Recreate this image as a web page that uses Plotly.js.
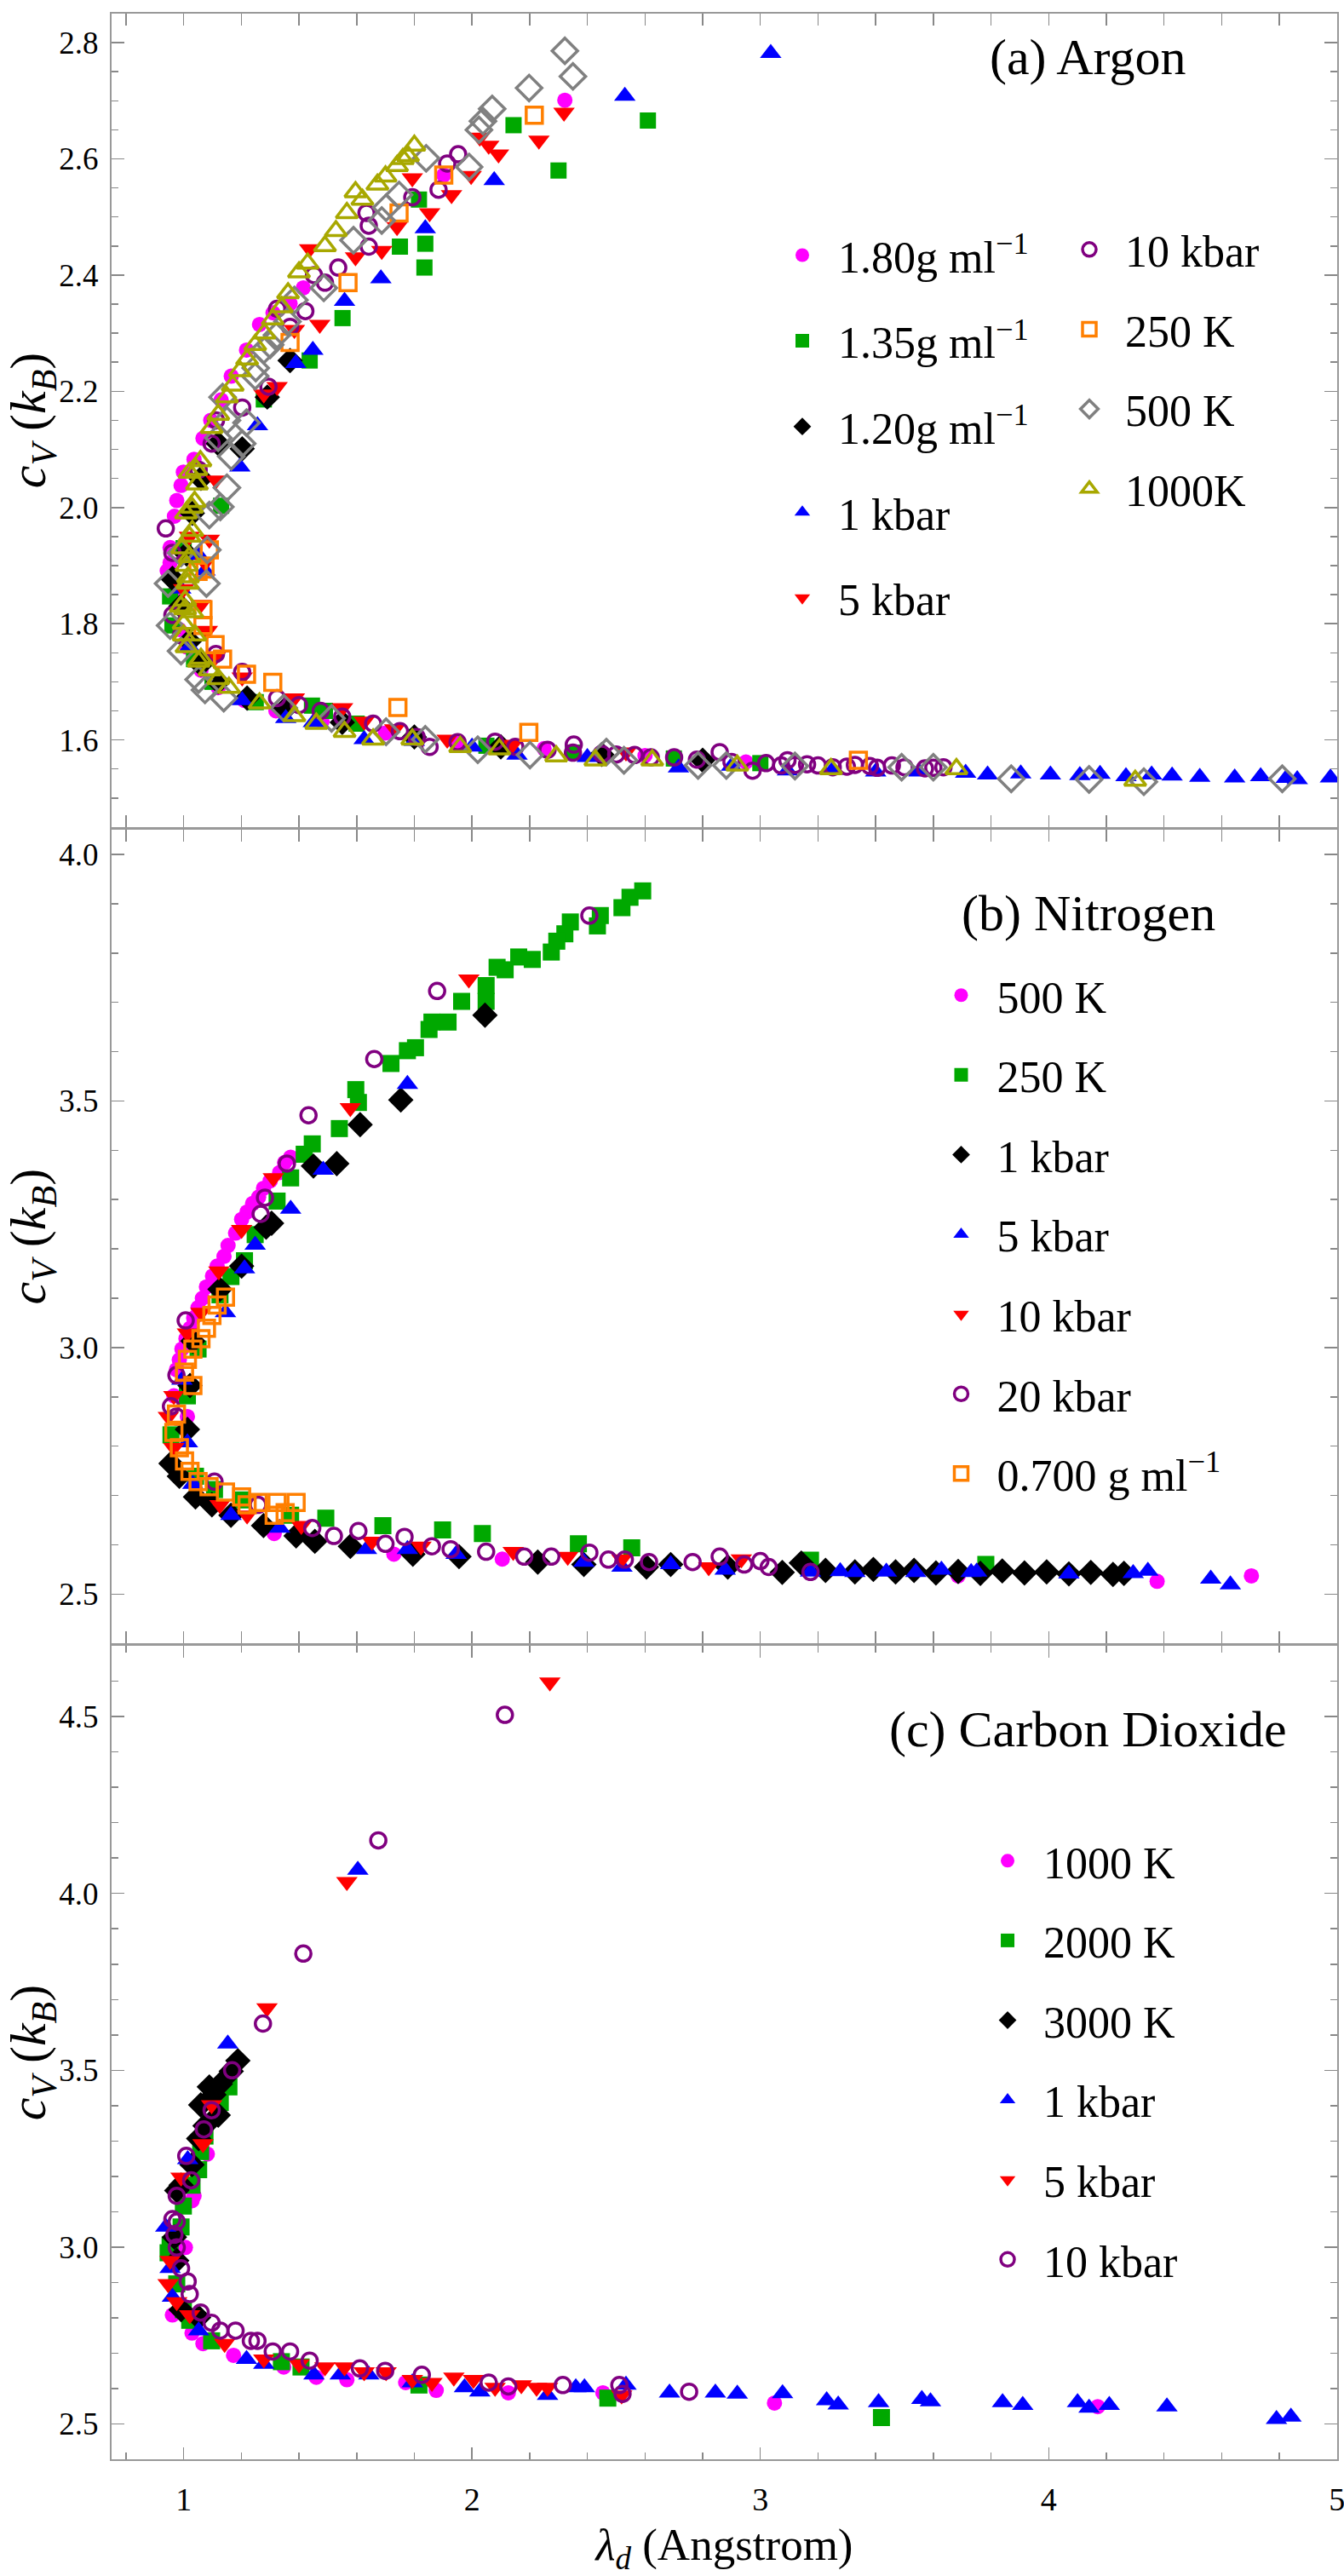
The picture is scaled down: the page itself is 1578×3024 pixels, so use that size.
<!DOCTYPE html>
<html>
<head>
<meta charset="utf-8">
<script src="https://cdn.plot.ly/plotly-3.0.1.min.js"></script>
<style>
body { margin: 0; background: #fff; }
#graph { width: 1578px; height: 3024px; }
</style>
</head>
<body>
<div id="graph"></div>
<script>
const FONT = '"Liberation Serif", "DejaVu Serif", serif';

// (a) Argon
const ar180x = [0.943, 0.953, 0.953, 0.968, 0.976, 0.991, 0.999, 1.036, 1.067, 1.094, 1.130, 1.165, 1.218, 1.263, 1.310, 1.369, 1.415, 1.902, 2.322, 0.960, 0.985, 1.010, 1.060, 1.120, 1.210, 1.320, 1.480, 1.700, 1.950, 2.250, 2.600, 2.950];
const ar180y = [1.891, 1.905, 1.931, 1.985, 2.012, 2.038, 2.061, 2.083, 2.119, 2.150, 2.185, 2.226, 2.271, 2.315, 2.335, 2.351, 2.378, 2.572, 2.701, 1.850, 1.790, 1.760, 1.720, 1.690, 1.668, 1.650, 1.632, 1.612, 1.595, 1.585, 1.573, 1.562];
const ar135x = [0.953, 0.961, 1.000, 1.130, 1.278, 1.437, 1.551, 1.750, 1.816, 1.835, 1.838, 2.144, 2.300, 2.610, 1.036, 1.100, 1.250, 1.445, 1.490, 1.600, 1.800, 2.050, 2.350, 2.700, 3.000];
const ar135y = [1.847, 1.797, 1.930, 2.003, 2.186, 2.253, 2.326, 2.449, 2.530, 2.413, 2.454, 2.658, 2.580, 2.666, 1.739, 1.700, 1.665, 1.659, 1.650, 1.628, 1.605, 1.590, 1.578, 1.568, 1.560];
const ar120x = [0.961, 0.990, 1.010, 1.030, 1.060, 1.120, 1.203, 1.290, 1.369, 1.020, 1.060, 1.120, 1.220, 1.350, 1.550, 1.800, 2.100, 2.450, 2.800];
const ar120y = [1.878, 1.830, 1.920, 1.990, 2.050, 2.110, 2.101, 2.190, 2.253, 1.770, 1.730, 1.700, 1.672, 1.652, 1.630, 1.605, 1.588, 1.575, 1.565];
const ar1kx = [0.990, 1.020, 1.052, 1.074, 1.195, 1.256, 1.389, 1.448, 1.558, 1.684, 1.838, 2.077, 2.530, 3.036, 1.203, 1.354, 1.450, 1.626, 1.800, 2.000, 2.156, 2.400, 2.716, 2.900, 3.094, 3.250, 3.400, 3.550, 3.712, 3.788, 3.903, 4.006, 4.108, 4.178, 4.268, 4.357, 4.428, 4.524, 4.645, 4.735, 4.824, 4.862, 4.977];
const ar1ky = [1.860, 1.760, 1.918, 1.891, 2.070, 2.141, 2.248, 2.271, 2.355, 2.394, 2.480, 2.563, 2.708, 2.782, 1.668, 1.637, 1.630, 1.601, 1.598, 1.588, 1.574, 1.570, 1.552, 1.555, 1.547, 1.548, 1.545, 1.545, 1.543, 1.540, 1.542, 1.540, 1.539, 1.541, 1.537, 1.540, 1.538, 1.536, 1.535, 1.537, 1.534, 1.532, 1.535];
const ar5kx = [2.319, 2.232, 2.092, 2.058, 2.027, 1.997, 1.929, 1.853, 1.793, 1.740, 1.687, 1.596, 1.437, 1.472, 1.384, 1.324, 1.278, 1.112, 1.089, 1.074, 1.059, 1.082, 1.112, 1.203, 1.384, 1.551, 1.626, 1.732, 1.914, 2.141, 2.534, 1.000, 1.020];
const ar5ky = [2.680, 2.632, 2.608, 2.623, 2.637, 2.571, 2.538, 2.507, 2.567, 2.483, 2.442, 2.431, 2.445, 2.315, 2.306, 2.208, 2.195, 2.047, 1.945, 1.905, 1.833, 1.788, 1.744, 1.708, 1.672, 1.655, 1.632, 1.619, 1.601, 1.592, 1.579, 1.860, 1.950];
const ar10kx = [1.952, 1.914, 1.884, 1.793, 1.642, 1.634, 1.642, 1.536, 1.490, 1.452, 1.422, 1.369, 1.324, 1.294, 1.203, 1.112, 1.097, 1.052, 0.938, 0.961, 0.961, 0.991, 1.112, 1.203, 1.324, 1.475, 1.657, 1.808, 1.853, 2.080, 2.262, 2.353, 2.564, 2.701, 2.859, 2.973, 3.094, 3.072, 3.162, 3.251, 3.328, 3.405, 3.456, 3.571, 3.635, 1.400, 1.550, 1.750, 1.950, 2.150, 2.450, 2.350, 2.500, 2.620, 2.780, 2.900, 3.020, 3.120, 3.200, 3.300, 3.380, 3.500, 3.600];
const ar10ky = [2.608, 2.592, 2.547, 2.534, 2.485, 2.507, 2.449, 2.413, 2.387, 2.400, 2.338, 2.311, 2.342, 2.208, 2.172, 2.150, 2.110, 2.065, 1.964, 1.922, 1.815, 1.780, 1.748, 1.717, 1.672, 1.650, 1.628, 1.605, 1.588, 1.597, 1.583, 1.592, 1.574, 1.570, 1.579, 1.547, 1.565, 1.556, 1.558, 1.553, 1.557, 1.552, 1.556, 1.551, 1.553, 1.660, 1.640, 1.615, 1.596, 1.588, 1.576, 1.578, 1.575, 1.570, 1.566, 1.562, 1.560, 1.557, 1.556, 1.554, 1.555, 1.553, 1.552];
const ar250x = [2.216, 1.902, 1.747, 1.570, 1.369, 1.074, 1.089, 1.067, 1.067, 1.109, 1.135, 1.218, 1.309, 1.743, 2.197, 3.340, 1.050];
const ar250y = [2.675, 2.572, 2.507, 2.387, 2.284, 1.894, 1.927, 1.824, 1.797, 1.764, 1.739, 1.713, 1.699, 1.656, 1.613, 1.565, 1.890];
const ar500x = [2.322, 2.350, 2.198, 2.070, 2.038, 2.024, 1.841, 1.990, 1.747, 1.702, 1.687, 1.589, 1.486, 1.384, 1.324, 1.278, 1.248, 1.135, 1.218, 1.203, 1.165, 1.150, 1.127, 1.089, 1.082, 1.079, 0.991, 0.946, 0.953, 0.991, 1.052, 1.074, 1.139, 1.347, 1.513, 1.702, 1.838, 2.020, 2.201, 2.466, 2.527, 2.784, 2.882, 3.120, 3.490, 3.600, 3.870, 4.140, 4.330, 4.810, 1.250, 1.300, 1.360, 1.150, 1.120];
const ar500y = [2.786, 2.742, 2.722, 2.686, 2.665, 2.650, 2.601, 2.586, 2.538, 2.516, 2.494, 2.460, 2.378, 2.357, 2.297, 2.271, 2.226, 2.190, 2.146, 2.110, 2.088, 2.034, 2.001, 1.987, 1.927, 1.869, 1.922, 1.869, 1.797, 1.753, 1.704, 1.686, 1.672, 1.655, 1.637, 1.614, 1.601, 1.583, 1.574, 1.579, 1.565, 1.556, 1.556, 1.555, 1.553, 1.553, 1.533, 1.532, 1.528, 1.533, 2.240, 2.280, 2.320, 2.150, 2.120];
const ar1000x = [1.052, 1.014, 1.029, 1.044, 1.097, 1.150, 1.195, 1.248, 1.309, 1.362, 1.400, 1.490, 1.528, 1.566, 1.596, 1.672, 1.740, 1.778, 1.800, 1.010, 1.000, 1.005, 1.010, 1.020, 1.015, 1.030, 1.040, 1.060, 1.090, 1.120, 1.157, 1.263, 1.384, 1.460, 1.558, 1.657, 1.793, 1.959, 2.095, 2.292, 2.428, 2.625, 2.920, 3.245, 3.680, 4.300, 1.000, 1.005, 1.012, 1.020, 1.030, 1.038, 1.046, 1.058, 1.020, 1.008, 0.995, 0.990, 1.120, 1.170, 1.220, 1.280, 1.340, 1.430, 1.620, 1.700, 1.760];
const ar1000y = [1.735, 1.869, 2.000, 2.065, 2.137, 2.190, 2.235, 2.280, 2.324, 2.369, 2.405, 2.450, 2.476, 2.507, 2.543, 2.556, 2.588, 2.605, 2.623, 1.760, 1.800, 1.840, 1.900, 1.950, 1.880, 1.820, 1.780, 1.740, 1.720, 1.705, 1.690, 1.663, 1.641, 1.628, 1.614, 1.601, 1.601, 1.588, 1.584, 1.572, 1.565, 1.565, 1.556, 1.550, 1.550, 1.530, 1.780, 1.825, 1.870, 1.915, 1.960, 2.010, 2.040, 2.080, 2.060, 1.990, 1.930, 1.830, 2.160, 2.210, 2.255, 2.300, 2.345, 2.420, 2.530, 2.570, 2.600];

// (b) Nitrogen
const ni500x = [1.371, 1.333, 1.277, 1.239, 1.201, 1.154, 1.116, 1.079, 1.050, 1.022, 0.994, 0.975, 0.966, 1.013, 1.350, 1.300, 1.260, 1.220, 1.180, 1.140, 1.100, 1.065, 1.035, 1.008, 0.985, 1.314, 1.729, 2.105, 3.686, 4.376, 4.703];
const ni500y = [3.386, 3.355, 3.323, 3.292, 3.260, 3.207, 3.165, 3.123, 3.081, 3.039, 2.997, 2.955, 2.902, 2.860, 3.375, 3.338, 3.305, 3.275, 3.232, 3.185, 3.145, 3.100, 3.060, 3.018, 2.975, 2.623, 2.581, 2.571, 2.537, 2.526, 2.537];
const ni250x = [2.592, 2.548, 2.520, 2.445, 2.435, 2.341, 2.322, 2.294, 2.275, 2.209, 2.162, 2.115, 2.087, 2.049, 2.049, 1.964, 1.917, 1.861, 1.851, 1.804, 1.776, 1.719, 1.597, 1.606, 1.540, 1.446, 1.418, 1.371, 1.324, 1.248, 1.211, 1.164, 1.126, 1.050, 1.013, 0.956, 1.041, 1.107, 1.201, 1.371, 1.493, 1.691, 1.898, 2.036, 2.369, 2.554, 3.174, 3.782];
const ni250y = [3.926, 3.913, 3.892, 3.876, 3.855, 3.863, 3.839, 3.824, 3.802, 3.787, 3.792, 3.766, 3.771, 3.734, 3.702, 3.702, 3.660, 3.660, 3.645, 3.608, 3.602, 3.576, 3.523, 3.497, 3.444, 3.413, 3.392, 3.344, 3.297, 3.229, 3.176, 3.144, 3.107, 2.997, 2.902, 2.823, 2.739, 2.712, 2.691, 2.660, 2.654, 2.639, 2.630, 2.623, 2.602, 2.594, 2.569, 2.560];
const ni1kx = [2.045, 1.753, 1.612, 1.531, 1.450, 1.305, 1.286, 1.201, 1.126, 1.032, 1.022, 1.013, 0.956, 0.985, 1.041, 1.098, 1.164, 1.277, 1.390, 1.455, 1.578, 1.795, 1.955, 2.228, 2.388, 2.605, 2.689, 2.887, 3.076, 3.142, 3.226, 3.328, 3.392, 3.469, 3.533, 3.609, 3.686, 3.763, 3.839, 3.916, 3.993, 4.070, 4.146, 4.223, 4.261];
const ni1ky = [3.674, 3.502, 3.452, 3.373, 3.368, 3.252, 3.244, 3.165, 3.118, 3.013, 2.923, 2.834, 2.765, 2.739, 2.697, 2.681, 2.660, 2.639, 2.618, 2.607, 2.597, 2.581, 2.576, 2.565, 2.560, 2.555, 2.560, 2.555, 2.544, 2.563, 2.548, 2.545, 2.550, 2.545, 2.548, 2.543, 2.546, 2.542, 2.547, 2.543, 2.545, 2.541, 2.544, 2.540, 2.542];
const ni5kx = [1.776, 1.484, 1.371, 1.248, 1.211, 1.145, 0.994, 1.013, 1.032, 1.164, 1.333, 1.634, 1.776, 1.945, 2.388, 2.520, 2.689, 2.878, 3.174, 3.277, 3.328, 3.437, 3.539, 3.628, 3.731, 3.750, 4.070, 4.293, 4.344, 4.562, 4.630];
const ni5ky = [3.534, 3.360, 3.281, 3.208, 3.160, 3.071, 2.934, 2.807, 2.723, 2.660, 2.634, 2.591, 2.591, 2.581, 2.565, 2.555, 2.560, 2.549, 2.545, 2.546, 2.544, 2.545, 2.544, 2.549, 2.544, 2.545, 2.541, 2.542, 2.547, 2.531, 2.519];
const ni10kx = [1.989, 1.578, 1.311, 1.201, 1.122, 1.060, 1.013, 0.966, 0.947, 0.966, 1.126, 1.220, 1.408, 1.653, 1.823, 2.143, 2.332, 2.520, 2.821, 2.934];
const ni10ky = [3.747, 3.486, 3.344, 3.239, 3.155, 3.071, 3.029, 2.902, 2.860, 2.797, 2.681, 2.660, 2.639, 2.607, 2.597, 2.586, 2.576, 2.571, 2.555, 2.571];
const ni20kx = [2.407, 1.879, 1.661, 1.433, 1.358, 1.282, 1.267, 1.007, 0.975, 0.956, 0.975, 1.107, 1.258, 1.446, 1.521, 1.606, 1.700, 1.766, 1.861, 1.926, 2.049, 2.181, 2.275, 2.407, 2.473, 2.530, 2.614, 2.765, 2.859, 2.944, 3.000, 3.029, 3.174];
const ni20ky = [3.876, 3.723, 3.585, 3.471, 3.373, 3.304, 3.271, 3.055, 2.944, 2.881, 2.860, 2.728, 2.681, 2.634, 2.618, 2.628, 2.602, 2.616, 2.597, 2.591, 2.586, 2.576, 2.576, 2.584, 2.570, 2.570, 2.565, 2.565, 2.576, 2.560, 2.567, 2.555, 2.545];
const ni070x = [1.145, 1.116, 1.098, 1.079, 1.060, 1.032, 1.013, 1.003, 1.032, 0.975, 0.966, 0.985, 1.003, 1.022, 1.050, 1.088, 1.145, 1.201, 1.258, 1.324, 1.390, 1.314, 1.352, 1.220];
const ni070y = [3.102, 3.086, 3.065, 3.039, 3.018, 2.997, 2.976, 2.950, 2.923, 2.865, 2.828, 2.797, 2.770, 2.749, 2.728, 2.718, 2.707, 2.697, 2.686, 2.686, 2.686, 2.660, 2.665, 2.681];

// (c) Carbon Dioxide
const co1000x = [1.082, 1.036, 1.029, 1.006, 0.961, 1.029, 1.067, 1.173, 1.347, 1.460, 1.566, 1.770, 1.876, 2.126, 2.454, 3.049, 4.170];
const co1000y = [3.263, 3.145, 3.131, 2.999, 2.808, 2.757, 2.727, 2.694, 2.661, 2.632, 2.625, 2.617, 2.595, 2.588, 2.588, 2.559, 2.549];
const co2000x = [1.157, 1.127, 1.074, 1.059, 1.052, 1.029, 0.999, 0.991, 0.953, 0.946, 0.976, 0.999, 1.021, 1.097, 1.339, 1.407, 1.816, 2.471, 3.420];
const co2000y = [3.453, 3.409, 3.314, 3.270, 3.219, 3.175, 3.116, 3.057, 3.006, 2.984, 2.896, 2.823, 2.793, 2.735, 2.676, 2.661, 2.610, 2.573, 2.518];
const co3000x = [1.188, 1.165, 1.127, 1.105, 1.089, 1.059, 1.120, 1.074, 1.052, 1.029, 0.991, 0.976, 0.968, 0.976, 0.991, 1.052];
const co3000y = [3.527, 3.497, 3.461, 3.431, 3.453, 3.402, 3.373, 3.343, 3.307, 3.233, 3.175, 3.160, 3.028, 2.962, 2.823, 2.801];
const co1kx = [1.604, 1.153, 1.014, 0.938, 0.953, 0.961, 1.052, 1.218, 1.278, 1.452, 1.543, 1.642, 1.793, 1.974, 2.027, 2.262, 2.360, 2.390, 2.534, 2.685, 2.844, 2.920, 3.077, 3.230, 3.270, 3.410, 3.560, 3.590, 3.840, 3.910, 4.100, 4.140, 4.210, 4.410, 4.790, 4.840];
const co1ky = [4.066, 3.575, 3.248, 3.057, 2.940, 2.859, 2.764, 2.683, 2.669, 2.639, 2.639, 2.639, 2.617, 2.603, 2.591, 2.581, 2.603, 2.603, 2.610, 2.588, 2.588, 2.585, 2.586, 2.566, 2.554, 2.561, 2.570, 2.563, 2.561, 2.553, 2.561, 2.545, 2.553, 2.549, 2.513, 2.520];
const co5kx = [2.270, 1.566, 1.289, 1.097, 1.067, 0.991, 0.953, 0.946, 0.976, 1.021, 1.142, 1.278, 1.400, 1.490, 1.558, 1.626, 1.702, 1.793, 1.861, 1.937, 2.005, 2.080, 2.171, 2.224, 2.262, 2.519];
const co5ky = [4.597, 4.033, 3.676, 3.402, 3.292, 3.197, 2.962, 2.896, 2.845, 2.808, 2.727, 2.683, 2.669, 2.661, 2.661, 2.647, 2.647, 2.625, 2.617, 2.632, 2.625, 2.603, 2.610, 2.603, 2.603, 2.581];
const co10kx = [2.114, 1.675, 1.415, 1.275, 1.168, 1.097, 1.070, 1.009, 1.026, 0.976, 0.961, 0.976, 0.968, 0.976, 0.991, 1.014, 1.021, 1.059, 1.097, 1.127, 1.180, 1.233, 1.256, 1.309, 1.369, 1.437, 1.611, 1.699, 1.826, 2.058, 2.126, 2.315, 2.511, 2.522, 2.753];
const co10ky = [4.505, 4.150, 3.830, 3.632, 3.500, 3.387, 3.333, 3.258, 3.189, 3.145, 3.079, 3.072, 3.035, 2.999, 2.940, 2.903, 2.867, 2.815, 2.786, 2.764, 2.764, 2.735, 2.735, 2.705, 2.705, 2.679, 2.657, 2.650, 2.639, 2.617, 2.606, 2.610, 2.610, 2.585, 2.591];

const MAGENTA = '#FF00FF', GREEN = '#00A800', BLACK = '#000000', BLUE = '#0000FF',
      RED = '#FF0000', PURPLE = '#800080', ORANGE = '#FF7F00', GRAY = '#808080', OLIVE = '#A8A800';

function pts(name, x, y, sym, col, yax, leg, size) {
    const open = sym.indexOf('-open') > 0;
    return {
        type: 'scatter', mode: 'markers', name: name, x: x, y: y,
        xaxis: 'x', yaxis: yax, legend: leg, legendgroup: yax + name,
        marker: {symbol: sym, color: col, size: size, line: {width: open ? 3.5 : 0, color: col}}
    };
}

const data = [
    pts('1.80g ml<sup>\u22121</sup>', ar180x, ar180y, 'circle', MAGENTA, 'y3', 'legend', 18),
    pts('1.35g ml<sup>\u22121</sup>', ar135x, ar135y, 'square', GREEN, 'y3', 'legend', 19),
    pts('1.20g ml<sup>\u22121</sup>', ar120x, ar120y, 'diamond', BLACK, 'y3', 'legend', 23),
    pts('1 kbar', ar1kx, ar1ky, 'triangle-up', BLUE, 'y3', 'legend', 22),
    pts('5 kbar', ar5kx, ar5ky, 'triangle-down', RED, 'y3', 'legend', 22),
    pts('10 kbar', ar10kx, ar10ky, 'circle-open', PURPLE, 'y3', 'legend2', 18),
    pts('250 K', ar250x, ar250y, 'square-open', ORANGE, 'y3', 'legend2', 19),
    pts('500 K', ar500x, ar500y, 'diamond-open', GRAY, 'y3', 'legend2', 23),
    pts('1000K', ar1000x, ar1000y, 'triangle-up-open', OLIVE, 'y3', 'legend2', 22),

    pts('500 K', ni500x, ni500y, 'circle', MAGENTA, 'y2', 'legend3', 18),
    pts('250 K', ni250x, ni250y, 'square', GREEN, 'y2', 'legend3', 20),
    pts('1 kbar', ni1kx, ni1ky, 'diamond', BLACK, 'y2', 'legend3', 23),
    pts('5 kbar', ni5kx, ni5ky, 'triangle-up', BLUE, 'y2', 'legend3', 22),
    pts('10 kbar', ni10kx, ni10ky, 'triangle-down', RED, 'y2', 'legend3', 22),
    pts('20 kbar', ni20kx, ni20ky, 'circle-open', PURPLE, 'y2', 'legend3', 18),
    pts('0.700 g ml<sup>\u22121</sup>', ni070x, ni070y, 'square-open', ORANGE, 'y2', 'legend3', 19),

    pts('1000 K', co1000x, co1000y, 'circle', MAGENTA, 'y', 'legend4', 18),
    pts('2000 K', co2000x, co2000y, 'square', GREEN, 'y', 'legend4', 20),
    pts('3000 K', co3000x, co3000y, 'diamond', BLACK, 'y', 'legend4', 23),
    pts('1 kbar', co1kx, co1ky, 'triangle-up', BLUE, 'y', 'legend4', 22),
    pts('5 kbar', co5kx, co5ky, 'triangle-down', RED, 'y', 'legend4', 22),
    pts('10 kbar', co10kx, co10ky, 'circle-open', PURPLE, 'y', 'legend4', 18)
];

const ytitle = {
    text: '<i>c</i><sub><i>V</i></sub> (<i>k</i><sub><i>B</i></sub>)',
    font: {family: FONT, size: 60, color: '#000'}, standoff: 12
};

function yax(dom, range, tick0, dtick, minor) {
    return {
        domain: dom, range: range, anchor: 'x', tick0: tick0, dtick: dtick, tickformat: '.1f',
        ticks: 'inside', ticklen: 15, tickwidth: 1.5, tickcolor: '#888',
        minor: {dtick: minor, ticks: 'inside', ticklen: 8, tickwidth: 1.5, tickcolor: '#888'},
        showline: true, linecolor: '#999', linewidth: 2, mirror: 'allticks',
        showgrid: false, zeroline: false, ticklabelstandoff: 6,
        tickfont: {family: FONT, size: 37, color: '#000'}, title: ytitle
    };
}

function legendBox(x, y, gap) {
    return {
        x: x, y: y, xanchor: 'left', yanchor: 'top', bgcolor: 'rgba(0,0,0,0)',
        font: {family: FONT, size: 52, color: '#000'}, tracegroupgap: gap, itemwidth: 74
    };
}

function panelLabel(text, y) {
    return {
        text: text, xref: 'paper', yref: 'paper', x: 0.797, y: y,
        xanchor: 'center', yanchor: 'middle', showarrow: false,
        font: {family: FONT, size: 60, color: '#000'}
    };
}

const layout = {
    width: 1578, height: 3024,
    margin: {l: 131, r: 8, t: 16, b: 137},
    paper_bgcolor: '#fff', plot_bgcolor: '#fff',
    font: {family: FONT, color: '#000'},
    showlegend: true,
    xaxis: {
        domain: [0, 1], range: [0.75, 5.0005], anchor: 'y', tick0: 0, dtick: 1,
        ticks: 'inside', ticklen: 14, tickwidth: 1.5, tickcolor: '#888',
        minor: {dtick: 0.2, ticks: 'inside', ticklen: 8, tickwidth: 1.5, tickcolor: '#888'},
        showline: true, linecolor: '#999', linewidth: 2, mirror: 'allticks',
        showgrid: false, zeroline: false, ticklabelstandoff: 12, ticklabeloverflow: 'allow',
        tickfont: {family: FONT, size: 38, color: '#000'},
        title: {text: '<i>\u03bb</i><sub><i>d</i></sub> (Angstrom)', font: {family: FONT, size: 53, color: '#000'}, standoff: 26}
    },
    yaxis: yax([0, 0.3326], [2.4, 4.7], 2.5, 0.5, 0.1),
    yaxis2: yax([0.3336, 0.6663], [2.4, 4.05], 2.5, 0.5, 0.1),
    yaxis3: yax([0.6674, 1], [1.45, 2.85], 1.6, 0.2, 0.05),
    legend: legendBox(0.5344, 0.9153, 30),
    legend2: legendBox(0.7686, 0.9176, 23),
    legend3: legendBox(0.6640, 0.6127, 23),
    legend4: legendBox(0.7019, 0.2588, 23),
    annotations: [
        panelLabel('(a) Argon', 0.9822),
        panelLabel('(b) Nitrogen', 0.6322),
        panelLabel('(c) Carbon Dioxide', 0.2985)
    ]
};

Plotly.newPlot('graph', data, layout, {staticPlot: true});
</script>
</body>
</html>
